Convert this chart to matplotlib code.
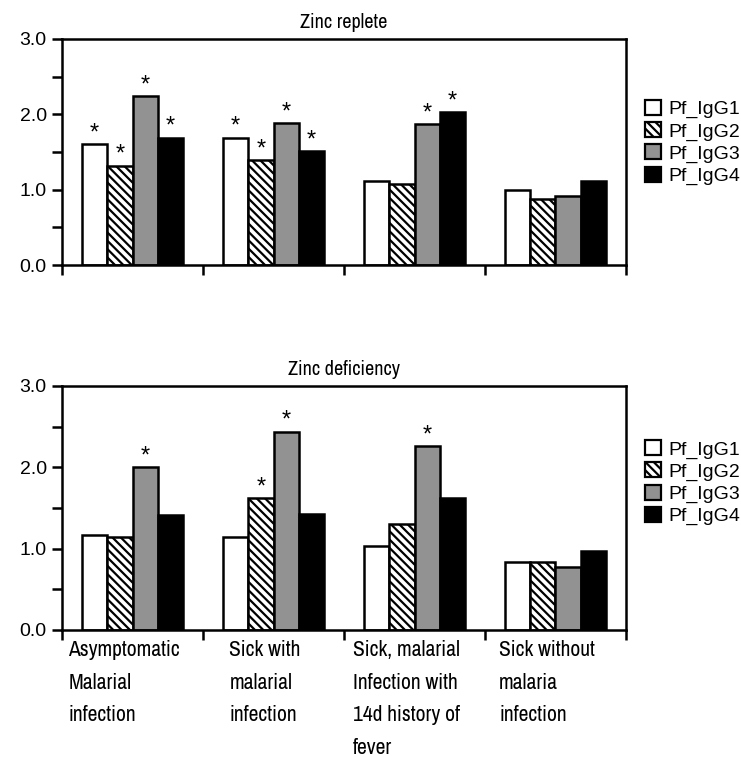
import matplotlib
matplotlib.use("Agg")
import matplotlib.pyplot as plt
from matplotlib import font_manager
from matplotlib.patches import Patch
from matplotlib.ticker import MultipleLocator, FuncFormatter
import numpy as np

# -----------------------
# Data
# -----------------------
groups = ["Asymptomatic\nMalarial\ninfection",
          "Sick with\nmalarial\ninfection",
          "Sick, malarial\nInfection with\n14d history of\nfever",
          "Sick without\nmalaria\ninfection"]
series = ["Pf_IgG1", "Pf_IgG2", "Pf_IgG3", "Pf_IgG4"]

replete_vals = {
    "Pf_IgG1": [1.60, 1.69, 1.11, 0.99],
    "Pf_IgG2": [1.32, 1.39, 1.08, 0.88],
    "Pf_IgG3": [2.24, 1.88, 1.87, 0.91],
    "Pf_IgG4": [1.69, 1.51, 2.03, 1.12],
}
replete_star = {
    "Pf_IgG1": [1, 1, 0, 0],
    "Pf_IgG2": [1, 1, 0, 0],
    "Pf_IgG3": [1, 1, 1, 0],
    "Pf_IgG4": [1, 1, 1, 0],
}
deficiency_vals = {
    "Pf_IgG1": [1.17, 1.14, 1.03, 0.83],
    "Pf_IgG2": [1.14, 1.62, 1.30, 0.83],
    "Pf_IgG3": [2.00, 2.44, 2.26, 0.78],
    "Pf_IgG4": [1.41, 1.43, 1.62, 0.97],
}
deficiency_star = {
    "Pf_IgG1": [0, 0, 0, 0],
    "Pf_IgG2": [0, 1, 0, 0],
    "Pf_IgG3": [1, 1, 1, 0],
    "Pf_IgG4": [0, 0, 0, 0],
}

# -----------------------
# Fonts
# -----------------------
installed = {f.name for f in font_manager.fontManager.ttflist}
narrow = next((f for f in ["Liberation Sans Narrow", "Arial Narrow", "Archivo Narrow",
                           "Roboto Condensed"] if f in installed), "Liberation Sans")
regular = "Liberation Sans" if "Liberation Sans" in installed else "DejaVu Sans"
plt.rcParams["font.family"] = [regular, "DejaVu Sans"]
plt.rcParams["hatch.linewidth"] = 1.6

styles = {
    "Pf_IgG1": dict(facecolor="white", hatch=None),
    "Pf_IgG2": dict(facecolor="white", hatch="\\\\\\\\"),
    "Pf_IgG3": dict(facecolor="#929292", hatch=None),
    "Pf_IgG4": dict(facecolor="black", hatch=None),
}

W = 0.18
offsets = [-0.27, -0.09, 0.09, 0.27]


def draw_panel(ax, vals, stars, title, leg_y):
    x = np.arange(len(groups)) + 0.5
    for k, s in enumerate(series):
        bars = ax.bar(x + offsets[k], vals[s], W, edgecolor="black",
                      linewidth=1.8, zorder=2, **styles[s])
        for b, st in zip(bars, stars[s]):
            if st:
                ax.text(b.get_x() + b.get_width() / 2, b.get_height(), "*",
                        ha="center", va="bottom", fontsize=17, family=[regular])
    ax.set_xlim(0, 4)
    ax.set_ylim(0, 3)
    ax.set_xticks(range(5))
    ax.set_xticklabels([])
    ax.yaxis.set_major_locator(MultipleLocator(1.0))
    ax.yaxis.set_minor_locator(MultipleLocator(0.5))
    ax.yaxis.set_major_formatter(FuncFormatter(lambda v, p: f"{v:.1f}"))
    ax.tick_params(axis="both", which="both", direction="out", length=7, width=1.8,
                   labelsize=14)
    ax.tick_params(axis="y", pad=4)
    for sp in ax.spines.values():
        sp.set_linewidth(1.8)
    ax.set_title(title, fontsize=14.5, family=[narrow], pad=8)
    handles = [Patch(edgecolor="black", linewidth=1.6, label=s, **styles[s]) for s in series]
    ax.legend(handles=handles, loc="upper left", bbox_to_anchor=(1.02, leg_y),
              frameon=False, fontsize=14, handlelength=0.8, handleheight=0.8,
              handletextpad=0.4, labelspacing=0.2, borderaxespad=0)


fig = plt.figure(figsize=(7.41, 7.57), dpi=100)
ax1 = fig.add_axes([0.0837, 0.6499, 0.7611, 0.2986])
ax2 = fig.add_axes([0.0837, 0.1678, 0.7611, 0.3223])

draw_panel(ax1, replete_vals, replete_star, "Zinc replete", 0.765)
draw_panel(ax2, deficiency_vals, deficiency_star, "Zinc deficiency", 0.81)

for i, g in enumerate(groups):
    ax2.text(i + 0.5 - 0.06, -0.12, g, transform=ax2.transData, ha="center", va="top",
             multialignment="left", fontsize=15.5, family=[narrow], linespacing=1.8)

fig.savefig("out.png", dpi=100)
